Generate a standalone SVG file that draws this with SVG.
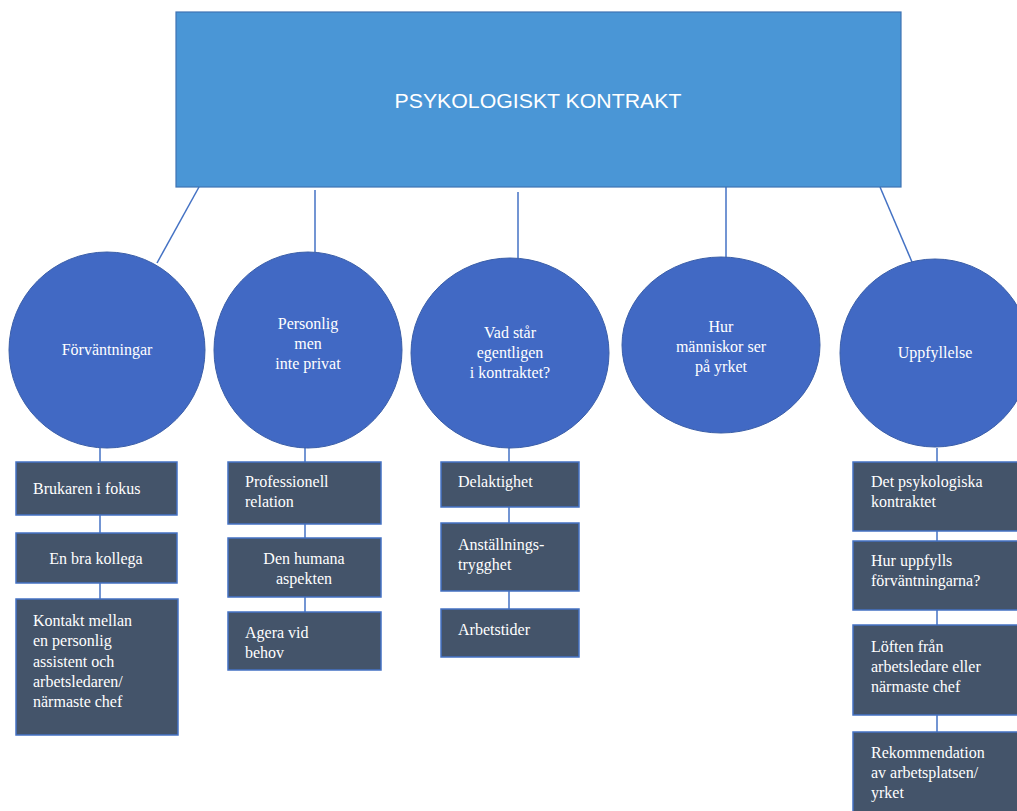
<svg xmlns="http://www.w3.org/2000/svg" width="1017" height="811" viewBox="0 0 1017 811">
<style>
.top{fill:#4a96d6;stroke:#3f73b3;stroke-width:1.2}
.circ{fill:#4169c4;stroke:#3a5ea8;stroke-width:1}
.box{fill:#44546a;stroke:#4472c4;stroke-width:1.5}
.ln{stroke:#4472c4;stroke-width:1.5;fill:none}
.t{font-family:"Liberation Serif","Times New Roman",serif;font-size:16px;fill:#ffffff}
.c{text-anchor:middle}
.title{font-family:"Liberation Sans",Arial,sans-serif;font-size:21px;fill:#ffffff;text-anchor:middle}
</style>
<rect width="1017" height="811" fill="#ffffff"/>
<g id="connectors">
<line class="ln" x1="199" y1="187" x2="157" y2="263"/>
<line class="ln" x1="315" y1="190" x2="315" y2="252"/>
<line class="ln" x1="518" y1="192" x2="518" y2="258"/>
<line class="ln" x1="726" y1="187" x2="726" y2="258"/>
<line class="ln" x1="880" y1="187" x2="912" y2="262"/>
<line class="ln" x1="100" y1="448" x2="100" y2="462"/>
<line class="ln" x1="100" y1="515" x2="100" y2="533"/>
<line class="ln" x1="100" y1="583" x2="100" y2="599"/>
<line class="ln" x1="305" y1="447" x2="305" y2="462"/>
<line class="ln" x1="305" y1="524" x2="305" y2="538"/>
<line class="ln" x1="305" y1="597" x2="305" y2="612"/>
<line class="ln" x1="509" y1="448" x2="509" y2="462"/>
<line class="ln" x1="509" y1="507" x2="509" y2="523"/>
<line class="ln" x1="509" y1="591" x2="509" y2="609"/>
<line class="ln" x1="937" y1="448" x2="937" y2="462"/>
<line class="ln" x1="937" y1="531" x2="937" y2="541"/>
<line class="ln" x1="937" y1="610" x2="937" y2="625"/>
<line class="ln" x1="937" y1="715" x2="937" y2="732"/>
</g>
<g id="root">
<rect class="top" x="176" y="12" width="725" height="175"/>
<text class="title" x="538" y="108" textLength="287" lengthAdjust="spacingAndGlyphs">PSYKOLOGISKT KONTRAKT</text>
</g>
<g id="c1">
<ellipse class="circ" cx="107" cy="350" rx="98" ry="98"/>
<text class="t c" x="107" y="355">Förväntningar</text>
</g>
<g id="c2">
<ellipse class="circ" cx="308" cy="350" rx="94" ry="98"/>
<text class="t c" x="308" y="329">Personlig</text>
<text class="t c" x="308" y="349">men</text>
<text class="t c" x="308" y="369">inte privat</text>
</g>
<g id="c3">
<ellipse class="circ" cx="510" cy="353" rx="99" ry="95"/>
<text class="t c" x="510" y="338">Vad står</text>
<text class="t c" x="510" y="358">egentligen</text>
<text class="t c" x="510" y="378">i kontraktet?</text>
</g>
<g id="c4">
<ellipse class="circ" cx="721" cy="345" rx="99" ry="88"/>
<text class="t c" x="721" y="332">Hur</text>
<text class="t c" x="721" y="352">människor ser</text>
<text class="t c" x="721" y="372">på yrket</text>
</g>
<g id="c5">
<ellipse class="circ" cx="935" cy="353" rx="95" ry="94"/>
<text class="t c" x="935" y="358">Uppfyllelse</text>
</g>
<g id="b1">
<rect class="box" x="16" y="462" width="161" height="53"/>
<text class="t" x="33" y="494">Brukaren i fokus</text>
</g>
<g id="b2">
<rect class="box" x="16" y="533" width="161" height="50"/>
<text class="t c" x="96" y="564">En bra kollega</text>
</g>
<g id="b3">
<rect class="box" x="16" y="599" width="162" height="136"/>
<text class="t" x="33" y="626">Kontakt mellan</text>
<text class="t" x="33" y="646">en personlig</text>
<text class="t" x="33" y="667">assistent och</text>
<text class="t" x="33" y="687">arbetsledaren/</text>
<text class="t" x="33" y="707">närmaste chef</text>
</g>
<g id="b4">
<rect class="box" x="228" y="462" width="153" height="62"/>
<text class="t" x="245" y="487">Professionell</text>
<text class="t" x="245" y="507">relation</text>
</g>
<g id="b5">
<rect class="box" x="228" y="538" width="153" height="59"/>
<text class="t c" x="304" y="564">Den humana</text>
<text class="t c" x="304" y="584">aspekten</text>
</g>
<g id="b6">
<rect class="box" x="228" y="612" width="153" height="58"/>
<text class="t" x="245" y="638">Agera vid</text>
<text class="t" x="245" y="658">behov</text>
</g>
<g id="b7">
<rect class="box" x="441" y="462" width="138" height="45"/>
<text class="t" x="458" y="487">Delaktighet</text>
</g>
<g id="b8">
<rect class="box" x="441" y="523" width="138" height="68"/>
<text class="t" x="458" y="550">Anställnings-</text>
<text class="t" x="458" y="570">trygghet</text>
</g>
<g id="b9">
<rect class="box" x="441" y="609" width="138" height="48"/>
<text class="t" x="458" y="635">Arbetstider</text>
</g>
<g id="b10">
<rect class="box" x="853" y="462" width="170" height="69"/>
<text class="t" x="871" y="487">Det psykologiska</text>
<text class="t" x="871" y="507">kontraktet</text>
</g>
<g id="b11">
<rect class="box" x="853" y="541" width="170" height="69"/>
<text class="t" x="871" y="566">Hur uppfylls</text>
<text class="t" x="871" y="586">förväntningarna?</text>
</g>
<g id="b12">
<rect class="box" x="853" y="625" width="170" height="90"/>
<text class="t" x="871" y="652">Löften från</text>
<text class="t" x="871" y="672">arbetsledare eller</text>
<text class="t" x="871" y="692">närmaste chef</text>
</g>
<g id="b13">
<rect class="box" x="853" y="732" width="170" height="90"/>
<text class="t" x="871" y="758">Rekommendation</text>
<text class="t" x="871" y="778">av arbetsplatsen/</text>
<text class="t" x="871" y="798">yrket</text>
</g>
</svg>
